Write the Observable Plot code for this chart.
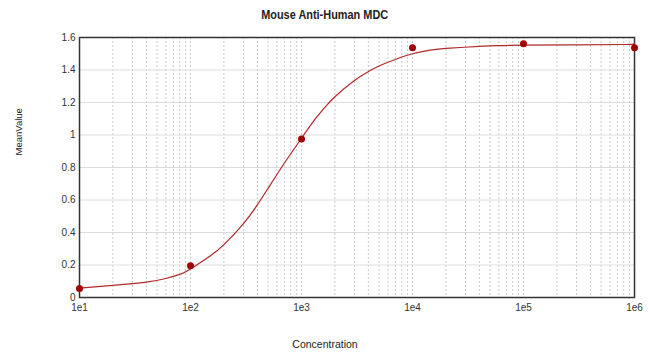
<!DOCTYPE html>
<html>
<head>
<meta charset="utf-8">
<script src="https://cdn.jsdelivr.net/npm/d3@7"></script>
<script src="https://cdn.jsdelivr.net/npm/@observablehq/plot@0.6"></script>
<style>
  body { margin: 0; background: #fff; font-family: "Liberation Sans", Arial, sans-serif; }
  #wrap { position: relative; width: 650px; height: 360px; }
  #title { position: absolute; top: 8px; left: 0; width: 650px; text-align: center;
           font-weight: bold; font-size: 13px; line-height: 13px; color: #222;
           transform: scaleX(0.84); transform-origin: 323px 0; z-index: 2; }
</style>
</head>
<body>
<div id="wrap">
  <div id="title"></div>
</div>
<script>
const title = "Mouse Anti-Human MDC";
const xLabel = "Concentration";
const yLabel = "MeanValue";

// measured points
const pointX = [10, 100, 1000, 10000, 100000, 1000000];
const pointY = [0.055, 0.195, 0.976, 1.537, 1.561, 1.537];

// fitted curve
const curveX = [10, 20, 40, 60, 80, 100, 150, 200, 300, 400, 500, 700, 1000, 1300, 1600, 2000, 3000, 4000, 5000, 7000, 10000, 15000, 20000, 40000, 60000, 100000, 300000, 800000, 1000000];
const curveY = [0.058, 0.075, 0.095, 0.117, 0.142, 0.175, 0.255, 0.325, 0.455, 0.57, 0.672, 0.826, 0.98, 1.09, 1.165, 1.235, 1.335, 1.39, 1.425, 1.465, 1.5, 1.524, 1.533, 1.545, 1.55, 1.553, 1.555, 1.557, 1.561];

// axis ticks
const xTicks = [10, 100, 1000, 10000, 100000, 1000000];
const yTicks = [0, 0.2, 0.4, 0.6, 0.8, 1, 1.2, 1.4, 1.6];

document.getElementById("title").textContent = title;

const points = pointX.map((x, i) => ({x, y: pointY[i]}));
const curve = curveX.map((x, i) => ({x, y: curveY[i]}));
const xGrid = d3.scaleLog().domain([10, 1e6]).ticks();

const chart = Plot.plot({
  width: 650,
  height: 360,
  marginLeft: 79,
  marginRight: 16,
  marginTop: 37,
  marginBottom: 63,
  style: { fontFamily: "Liberation Sans, Arial, sans-serif", fontSize: "10px", color: "#333", background: "#fff" },
  x: { type: "log", domain: [10, 1e6], label: null },
  y: { domain: [0, 1.6], label: null },
  marks: [
    Plot.ruleX(xGrid, { stroke: "#c8c8c8", strokeDasharray: "2,2", strokeWidth: 1 }),
    Plot.ruleY(yTicks, { stroke: "#dcdcdc", strokeWidth: 1 }),
    Plot.axisX(xTicks, { tickSize: 0, tickPadding: 6, tickFormat: d => "1e" + Math.round(Math.log10(d)), fontSize: 10, fill: "#333" }),
    Plot.axisY(yTicks, { tickSize: 0, tickPadding: 4, tickFormat: d => String(+d.toFixed(1)), fontSize: 10, fill: "#333" }),
    Plot.frame({ stroke: "#333", strokeWidth: 1.5 }),
    Plot.line(curve, { x: "x", y: "y", curve: "natural", stroke: "#b02a2a", strokeWidth: 1.2 }),
    Plot.dot(points, { x: "x", y: "y", r: 3.5, fill: "#a00000", stroke: "none" }),
    Plot.text([xLabel], { frameAnchor: "bottom", dy: 50, dx: -32, fontSize: 10.5, fill: "#222" }),
    Plot.text([yLabel], { frameAnchor: "left", dx: -61, dy: -12, rotate: -90, fontSize: 9.5, fill: "#222" })
  ]
});
document.getElementById("wrap").appendChild(chart);
chart.style.position = "absolute";
chart.style.top = "0";
chart.style.left = "0";
</script>
</body>
</html>
